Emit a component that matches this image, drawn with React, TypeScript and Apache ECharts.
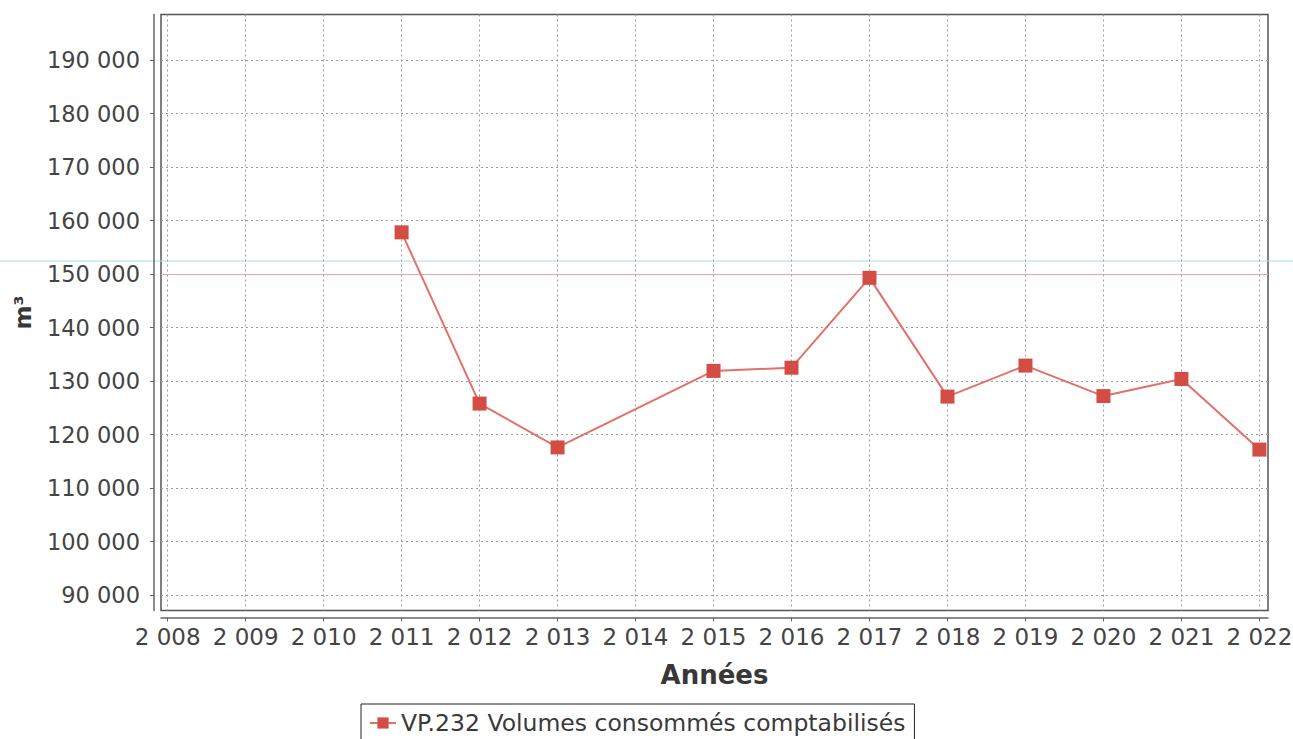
import React, { useEffect, useRef } from "react";
import * as echarts from "echarts";

const seriesName = "VP.232 Volumes consommés comptabilisés";
const years = [2011, 2012, 2013, 2014, 2015, 2016, 2017, 2018, 2019, 2020, 2021, 2022];
const volumes: (number | null)[] = [157800, 125800, 117600, null, 131900, 132500, 149300, 127100, 132900, 127200, 130400, 117200];
const xTickValues = [2008, 2009, 2010, 2011, 2012, 2013, 2014, 2015, 2016, 2017, 2018, 2019, 2020, 2021, 2022];
const yTickValues = [90000, 100000, 110000, 120000, 130000, 140000, 150000, 160000, 170000, 180000, 190000];
const highlightLevel = 150000;

const fmt = (v: number) => String(Math.round(v)).replace(/\B(?=(\d{3})+(?!\d))/g, " ");

export default function App() {
  const ref = useRef<HTMLDivElement>(null);
  useEffect(() => {
    if (!ref.current) return;
    const chart = echarts.init(ref.current, undefined, { renderer: "svg" });
    const font = "DejaVu Sans";
    chart.setOption({
      animation: false,
      backgroundColor: "#ffffff",
      textStyle: { fontFamily: font },
      grid: {
        left: 161,
        top: 14.5,
        width: 1107,
        height: 596,
        show: true,
        backgroundColor: "#ffffff",
        borderColor: "#555555",
        borderWidth: 1.5,
        containLabel: false,
        outerBoundsMode: "none",
      },
      legend: {
        left: 361,
        top: 704,
        padding: [7, 9, 8, 8],
        borderColor: "#222222",
        borderWidth: 1,
        itemWidth: 26,
        itemHeight: 14,
        itemGap: 10,
        textStyle: { fontFamily: font, fontSize: 23.5, color: "#3a3a3a" },
        data: [seriesName],
      },
      xAxis: {
        type: "value",
        min: 2007.915,
        max: 2022.11,
        offset: 7,
        name: "Années",
        nameLocation: "middle",
        nameGap: 44,
        nameTextStyle: { fontFamily: font, fontSize: 26, fontWeight: "bold", color: "#383838" },
        axisLine: { show: true, lineStyle: { color: "#666666", width: 1.5 } },
        axisTick: { show: true, length: 4, customValues: xTickValues, lineStyle: { color: "#666666" } },
        axisLabel: {
          customValues: xTickValues,
          margin: 8,
          fontFamily: font,
          fontSize: 23,
          color: "#444444",
          formatter: (v: number) => fmt(v),
        },
        splitLine: { show: true, lineStyle: { color: "#9a9aaa", width: 1, type: [2, 3] } },
      },
      yAxis: {
        type: "value",
        min: 87120,
        max: 198520,
        offset: 7,
        name: "m³",
        nameLocation: "middle",
        nameRotate: 90,
        nameGap: 120,
        nameTextStyle: { fontFamily: font, fontSize: 23, fontWeight: "bold", color: "#383838" },
        axisLine: { show: true, lineStyle: { color: "#666666", width: 1.5 } },
        axisTick: { show: true, length: 4, customValues: yTickValues, lineStyle: { color: "#666666" } },
        axisLabel: {
          customValues: yTickValues,
          margin: 14,
          fontFamily: font,
          fontSize: 22.5,
          color: "#444444",
          formatter: (v: number) => fmt(v),
        },
        splitLine: { show: true, lineStyle: { color: "#9a9aaa", width: 1, type: [2, 3] } },
      },
      graphic: [
        {
          type: "line",
          silent: true,
          z: 0,
          shape: { x1: 0, y1: 261, x2: 1293, y2: 261 },
          style: { stroke: "#9fe6e0", lineWidth: 1 },
        },
      ],
      series: [
        {
          name: seriesName,
          type: "line",
          data: years.map((y, i) => [y, volumes[i]]),
          connectNulls: true,
          symbol: "rect",
          symbolSize: 14,
          showAllSymbol: true,
          lineStyle: { color: "#e0726a", width: 2 },
          itemStyle: { color: "#d44d45" },
          markLine: {
            silent: true,
            symbol: "none",
            label: { show: false },
            lineStyle: { color: "#e8a2b4", width: 1, type: "solid" },
            data: [{ yAxis: highlightLevel }],
            z: 1,
          },
        },
      ],
    });
    return () => chart.dispose();
  }, []);
  return (
    <div
      ref={ref}
      style={{ position: "fixed", left: 0, top: 0, width: 1293, height: 739 }}
    />
  );
}
